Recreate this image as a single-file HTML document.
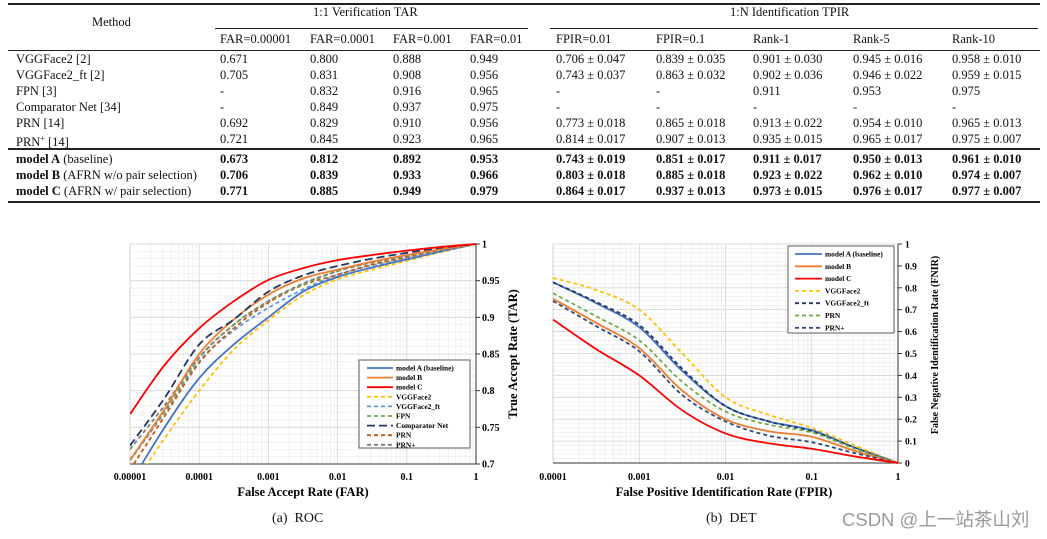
<!DOCTYPE html>
<html><head><meta charset="utf-8">
<style>
html,body{margin:0;padding:0;background:#fff;}
body{width:1047px;height:539px;position:relative;overflow:hidden;font-family:"Liberation Serif",serif;color:#111;}
.t{position:absolute;font-size:12.5px;white-space:nowrap;line-height:14px;}
.b{font-weight:bold;}
.rule{position:absolute;background:#222;}
svg text{font-family:"Liberation Serif",serif;}
</style></head>
<body>
<div>
<div class="rule" style="left:8px;top:3px;width:1032px;height:1.5px"></div>
<div class="rule" style="left:215px;top:28px;width:313px;height:1px"></div>
<div class="rule" style="left:550px;top:28px;width:488px;height:1px"></div>
<div class="rule" style="left:8px;top:50px;width:1032px;height:1px"></div>
<div class="rule" style="left:8px;top:148px;width:1032px;height:1.5px"></div>
<div class="rule" style="left:8px;top:201px;width:1032px;height:1.5px"></div>
<span class="t" style="left:92px;top:15px">Method</span>
<span class="t" style="left:313px;top:5px">1:1 Verification TAR</span>
<span class="t" style="left:730px;top:5px">1:N Identification TPIR</span>
</div>
<div id="tbl">
<div><span class="t" style="left:220px;top:32px">FAR=0.00001</span><span class="t" style="left:310px;top:32px">FAR=0.0001</span><span class="t" style="left:393px;top:32px">FAR=0.001</span><span class="t" style="left:470px;top:32px">FAR=0.01</span><span class="t" style="left:556px;top:32px">FPIR=0.01</span><span class="t" style="left:656px;top:32px">FPIR=0.1</span><span class="t" style="left:753px;top:32px">Rank-1</span><span class="t" style="left:853px;top:32px">Rank-5</span><span class="t" style="left:952px;top:32px">Rank-10</span></div>
<div><span class="t" style="left:16px;top:52px">VGGFace2 [2]</span><span class="t" style="left:220px;top:52px">0.671</span><span class="t" style="left:310px;top:52px">0.800</span><span class="t" style="left:393px;top:52px">0.888</span><span class="t" style="left:470px;top:52px">0.949</span><span class="t" style="left:556px;top:52px">0.706 ± 0.047</span><span class="t" style="left:656px;top:52px">0.839 ± 0.035</span><span class="t" style="left:753px;top:52px">0.901 ± 0.030</span><span class="t" style="left:853px;top:52px">0.945 ± 0.016</span><span class="t" style="left:952px;top:52px">0.958 ± 0.010</span></div>
<div><span class="t" style="left:16px;top:68px">VGGFace2_ft [2]</span><span class="t" style="left:220px;top:68px">0.705</span><span class="t" style="left:310px;top:68px">0.831</span><span class="t" style="left:393px;top:68px">0.908</span><span class="t" style="left:470px;top:68px">0.956</span><span class="t" style="left:556px;top:68px">0.743 ± 0.037</span><span class="t" style="left:656px;top:68px">0.863 ± 0.032</span><span class="t" style="left:753px;top:68px">0.902 ± 0.036</span><span class="t" style="left:853px;top:68px">0.946 ± 0.022</span><span class="t" style="left:952px;top:68px">0.959 ± 0.015</span></div>
<div><span class="t" style="left:16px;top:84px">FPN [3]</span><span class="t" style="left:220px;top:84px">-</span><span class="t" style="left:310px;top:84px">0.832</span><span class="t" style="left:393px;top:84px">0.916</span><span class="t" style="left:470px;top:84px">0.965</span><span class="t" style="left:556px;top:84px">-</span><span class="t" style="left:656px;top:84px">-</span><span class="t" style="left:753px;top:84px">0.911</span><span class="t" style="left:853px;top:84px">0.953</span><span class="t" style="left:952px;top:84px">0.975</span></div>
<div><span class="t" style="left:16px;top:100px">Comparator Net [34]</span><span class="t" style="left:220px;top:100px">-</span><span class="t" style="left:310px;top:100px">0.849</span><span class="t" style="left:393px;top:100px">0.937</span><span class="t" style="left:470px;top:100px">0.975</span><span class="t" style="left:556px;top:100px">-</span><span class="t" style="left:656px;top:100px">-</span><span class="t" style="left:753px;top:100px">-</span><span class="t" style="left:853px;top:100px">-</span><span class="t" style="left:952px;top:100px">-</span></div>
<div><span class="t" style="left:16px;top:116px">PRN [14]</span><span class="t" style="left:220px;top:116px">0.692</span><span class="t" style="left:310px;top:116px">0.829</span><span class="t" style="left:393px;top:116px">0.910</span><span class="t" style="left:470px;top:116px">0.956</span><span class="t" style="left:556px;top:116px">0.773 ± 0.018</span><span class="t" style="left:656px;top:116px">0.865 ± 0.018</span><span class="t" style="left:753px;top:116px">0.913 ± 0.022</span><span class="t" style="left:853px;top:116px">0.954 ± 0.010</span><span class="t" style="left:952px;top:116px">0.965 ± 0.013</span></div>
<div><span class="t" style="left:16px;top:132px">PRN<sup style="font-size:8px">+</sup> [14]</span><span class="t" style="left:220px;top:132px">0.721</span><span class="t" style="left:310px;top:132px">0.845</span><span class="t" style="left:393px;top:132px">0.923</span><span class="t" style="left:470px;top:132px">0.965</span><span class="t" style="left:556px;top:132px">0.814 ± 0.017</span><span class="t" style="left:656px;top:132px">0.907 ± 0.013</span><span class="t" style="left:753px;top:132px">0.935 ± 0.015</span><span class="t" style="left:853px;top:132px">0.965 ± 0.017</span><span class="t" style="left:952px;top:132px">0.975 ± 0.007</span></div>
<div><span class="t" style="left:16px;top:152px"><b>model A</b> (baseline)</span><span class="t b" style="left:220px;top:152px">0.673</span><span class="t b" style="left:310px;top:152px">0.812</span><span class="t b" style="left:393px;top:152px">0.892</span><span class="t b" style="left:470px;top:152px">0.953</span><span class="t b" style="left:556px;top:152px">0.743 ± 0.019</span><span class="t b" style="left:656px;top:152px">0.851 ± 0.017</span><span class="t b" style="left:753px;top:152px">0.911 ± 0.017</span><span class="t b" style="left:853px;top:152px">0.950 ± 0.013</span><span class="t b" style="left:952px;top:152px">0.961 ± 0.010</span></div>
<div><span class="t" style="left:16px;top:168px"><b>model B</b> (AFRN w/o pair selection)</span><span class="t b" style="left:220px;top:168px">0.706</span><span class="t b" style="left:310px;top:168px">0.839</span><span class="t b" style="left:393px;top:168px">0.933</span><span class="t b" style="left:470px;top:168px">0.966</span><span class="t b" style="left:556px;top:168px">0.803 ± 0.018</span><span class="t b" style="left:656px;top:168px">0.885 ± 0.018</span><span class="t b" style="left:753px;top:168px">0.923 ± 0.022</span><span class="t b" style="left:853px;top:168px">0.962 ± 0.010</span><span class="t b" style="left:952px;top:168px">0.974 ± 0.007</span></div>
<div><span class="t" style="left:16px;top:184px"><b>model C</b> (AFRN w/ pair selection)</span><span class="t b" style="left:220px;top:184px">0.771</span><span class="t b" style="left:310px;top:184px">0.885</span><span class="t b" style="left:393px;top:184px">0.949</span><span class="t b" style="left:470px;top:184px">0.979</span><span class="t b" style="left:556px;top:184px">0.864 ± 0.017</span><span class="t b" style="left:656px;top:184px">0.937 ± 0.013</span><span class="t b" style="left:753px;top:184px">0.973 ± 0.015</span><span class="t b" style="left:853px;top:184px">0.976 ± 0.017</span><span class="t b" style="left:952px;top:184px">0.977 ± 0.007</span></div>
</div>

<svg id="charts" width="1047" height="539" style="position:absolute;left:0;top:0" xmlns="http://www.w3.org/2000/svg"></svg>
<span class="t" style="left:272px;top:512px;font-size:14px">(a)&nbsp; ROC</span>
<span class="t" style="left:706px;top:512px;font-size:14px">(b)&nbsp; DET</span>
<span class="t" style="left:842px;top:510px;font-size:18.5px;line-height:20px;color:#9a9a9a;font-family:'Liberation Sans','Noto Sans CJK SC',sans-serif">CSDN @上一站茶山刘</span>

<script>
// ROC data (x = FAR at half decades from 1e-5 to 1)
const rocExp = [-5,-4.5,-4,-3.5,-3,-2.5,-2,-1.5,-1,-0.5,0];
const rocModelC = [0.768,0.835,0.885,0.922,0.951,0.967,0.978,0.985,0.991,0.996,1];
const rocComparator = [0.725,0.79,0.863,0.897,0.935,0.957,0.970,0.980,0.988,0.995,1];
const rocModelB = [0.705,0.775,0.85,0.897,0.931,0.953,0.965,0.976,0.985,0.993,1];
const rocFPN = [0.706,0.772,0.845,0.89,0.922,0.945,0.963,0.975,0.984,0.993,1];
const rocPRNplus = [0.72,0.78,0.845,0.89,0.922,0.946,0.963,0.975,0.984,0.993,1];
const rocPRN = [0.692,0.765,0.838,0.885,0.92,0.944,0.958,0.972,0.982,0.992,1];
const rocVGGft = [0.705,0.77,0.84,0.882,0.913,0.938,0.958,0.971,0.981,0.991,1];
const rocModelA = [0.673,0.75,0.817,0.863,0.90,0.935,0.955,0.968,0.979,0.99,1];
const rocVGG = [0.665,0.735,0.80,0.856,0.896,0.93,0.952,0.965,0.977,0.989,1];
const rocXTicks = ["0.00001","0.0001","0.001","0.01","0.1","1"];
const rocYTicks = ["0.7","0.75","0.8","0.85","0.9","0.95","1"];
// DET data (x = FPIR at half decades from 1e-4 to 1)
const detExp = [-4,-3.5,-3,-2.5,-2,-1.5,-1,-0.5,0];
const detVGG = [0.845,0.79,0.70,0.50,0.30,0.22,0.16,0.08,0];
const detModelA = [0.825,0.73,0.62,0.42,0.26,0.19,0.15,0.07,0];
const detVGGft = [0.825,0.735,0.63,0.43,0.26,0.19,0.145,0.07,0];
const detPRN = [0.775,0.67,0.56,0.37,0.235,0.175,0.14,0.065,0];
const detModelB = [0.75,0.64,0.525,0.33,0.2,0.145,0.12,0.055,0];
const detPRNplus = [0.74,0.625,0.51,0.31,0.19,0.125,0.095,0.045,0];
const detModelC = [0.655,0.52,0.40,0.24,0.135,0.09,0.065,0.03,0];
const detXTicks = ["0.0001","0.001","0.01","0.1","1"];
const detYTicks = ["0","0.1","0.2","0.3","0.4","0.5","0.6","0.7","0.8","0.9","1"];

const NS="http://www.w3.org/2000/svg";
const svg=document.getElementById('charts');
function mk(tag,attrs,parent){const e=document.createElementNS(NS,tag);for(const k in attrs)e.setAttribute(k,attrs[k]);(parent||svg).appendChild(e);return e;}
const R={x0:130,x1:476,y0:244,y1:464};
const D={x0:553,x1:898,y0:244,y1:463};
const xr=e=>R.x0+(e+5)/5*(R.x1-R.x0);
const yr=v=>R.y1-(v-0.7)/0.3*(R.y1-R.y0);
const xd=e=>D.x0+(e+4)/4*(D.x1-D.x0);
const yd=v=>D.y1-v*(D.y1-D.y0);

function pathFrom(pts){
  let d="M"+pts[0][0].toFixed(2)+","+pts[0][1].toFixed(2);
  for(let i=0;i<pts.length-1;i++){
    const p0=pts[Math.max(0,i-1)],p1=pts[i],p2=pts[i+1],p3=pts[Math.min(pts.length-1,i+2)];
    const c1=[p1[0]+(p2[0]-p0[0])/6,p1[1]+(p2[1]-p0[1])/6];
    const c2=[p2[0]-(p3[0]-p1[0])/6,p2[1]-(p3[1]-p1[1])/6];
    d+=" C"+c1[0].toFixed(2)+","+c1[1].toFixed(2)+" "+c2[0].toFixed(2)+","+c2[1].toFixed(2)+" "+p2[0].toFixed(2)+","+p2[1].toFixed(2);
  }
  return d;
}

function grid(P,xf,decStart,decs,yf,yMinor,yMajor,yLo,yHi){
  const g=mk('g',{});
  
  
  for(let k=0;k<decs;k++){for(let m=2;m<=9;m++){const x=xf(decStart+k+Math.log10(m));
    mk('line',{x1:x,x2:x,y1:P.y0,y2:P.y1,stroke:'#ececec','stroke-width':0.7},g);}}
  for(let v=yLo;v<=yHi+1e-9;v+=yMinor){const y=yf(v);mk('line',{x1:P.x0,x2:P.x1,y1:y,y2:y,stroke:'#ececec','stroke-width':0.7},g);}
  for(let v=yLo;v<=yHi+1e-9;v+=yMajor){const y=yf(v);mk('line',{x1:P.x0,x2:P.x1,y1:y,y2:y,stroke:'#d4d4d4','stroke-width':0.8},g);}
  for(let k=0;k<=decs;k++){const x=xf(decStart+k);mk('line',{x1:x,x2:x,y1:P.y0,y2:P.y1,stroke:'#d4d4d4','stroke-width':0.8},g);}
  mk('line',{x1:P.x0,x2:P.x0,y1:P.y0,y2:P.y1,stroke:'#d0d0d0','stroke-width':0.8},g);
  mk('line',{x1:P.x0,x2:P.x1,y1:P.y1,y2:P.y1,stroke:'#333','stroke-width':1},g);
  mk('line',{x1:P.x1,x2:P.x1,y1:P.y0,y2:P.y1,stroke:'#333','stroke-width':1},g);
}

// ---- ROC ----
grid(R,xr,-5,5,yr,0.01,0.05,0.7,1.0);
const clipR=mk('clipPath',{id:'clipR'});mk('rect',{x:R.x0,y:R.y0-2,width:R.x1-R.x0,height:R.y1-R.y0+2},clipR);
const rocSeries=[
 ['roc-vggface2',rocVGG,'#FFC000','4,3'],
 ['roc-model-a',rocModelA,'#4472C4',''],
 ['roc-vggface2-ft',rocVGGft,'#5B9BD5','4,3'],
 ['roc-prn',rocPRN,'#C55A11','4,3'],
 ['roc-fpn',rocFPN,'#70AD47','4,3'],
 ['roc-prn-plus',rocPRNplus,'#7F7F7F','4,3'],
 ['roc-model-b',rocModelB,'#ED7D31',''],
 ['roc-comparator-net',rocComparator,'#203864','8,4'],
 ['roc-model-c',rocModelC,'#FF0000','']
];
rocSeries.forEach(s=>{
  const p=mk('path',{d:pathFrom(rocExp.map((e,i)=>[xr(e),yr(s[1][i])])),fill:'none',stroke:s[2],'stroke-width':1.8,'stroke-dasharray':s[3],'clip-path':'url(#clipR)'});
  
  
});
rocXTicks.forEach((t,i)=>{const tx=mk('text',{x:xr(-5+i),y:480,'text-anchor':'middle','font-size':10,'font-weight':'bold'});tx.textContent=t;
  
  });
rocYTicks.forEach((t,i)=>{const tx=mk('text',{x:482,y:yr(0.7+i*0.05)+3.5,'font-size':10,'font-weight':'bold'});tx.textContent=t;
  
  
  mk('line',{x1:R.x1,x2:R.x1+4,y1:yr(0.7+i*0.05),y2:yr(0.7+i*0.05),stroke:'#333'});});
let tt=mk('text',{x:303,y:496,'text-anchor':'middle','font-size':12.5,'font-weight':'bold'});tt.textContent='False Accept Rate (FAR)';


tt=mk('text',{x:0,y:0,'text-anchor':'middle','font-size':12.5,'font-weight':'bold',transform:'translate(517,354) rotate(-90)'});tt.textContent='True Accept Rate (TAR)';


// ROC legend
const rocLeg=[['model A (baseline)','#4472C4',''],['model B','#ED7D31',''],['model C','#FF0000',''],['VGGFace2','#FFC000','4,3'],['VGGFace2_ft','#5B9BD5','4,3'],['FPN','#70AD47','4,3'],['Comparator Net','#203864','8,4'],['PRN','#C55A11','4,3'],['PRN+','#7F7F7F','4,3']];
const lg=mk('g',{});


mk('rect',{x:359,y:360,width:111,height:88,fill:'#fff',stroke:'#333','stroke-width':0.8},lg);
rocLeg.forEach((l,i)=>{const y=368+i*9.6;
  mk('line',{x1:367,x2:393,y1:y,y2:y,stroke:l[1],'stroke-width':1.8,'stroke-dasharray':l[2]},lg);
  const t=mk('text',{x:396,y:y+2.5,'font-size':7.4,'font-weight':'bold'},lg);t.textContent=l[0];
  
  });

// ---- DET ----
grid(D,xd,-4,4,yd,0.02,0.1,0,1.0);
const detSeries=[
 ['det-vggface2',detVGG,'#FFC000','4,3'],
 ['det-model-a',detModelA,'#4472C4',''],
 ['det-vggface2-ft',detVGGft,'#203864','4,3'],
 ['det-prn',detPRN,'#70AD47','4,3'],
 ['det-model-b',detModelB,'#ED7D31',''],
 ['det-prn-plus',detPRNplus,'#2F4A7A','4,3'],
 ['det-model-c',detModelC,'#FF0000','']
];
detSeries.forEach(s=>{
  const p=mk('path',{d:pathFrom(detExp.map((e,i)=>[xd(e),yd(s[1][i])])),fill:'none',stroke:s[2],'stroke-width':1.8,'stroke-dasharray':s[3]});
  
  
});
detXTicks.forEach((t,i)=>{const tx=mk('text',{x:xd(-4+i),y:480,'text-anchor':'middle','font-size':10,'font-weight':'bold'});tx.textContent=t;
  
  });
detYTicks.forEach((t,i)=>{const tx=mk('text',{x:905,y:yd(i*0.1)+3.5,'font-size':9.5,'font-weight':'bold'});tx.textContent=t;
  
  
  mk('line',{x1:D.x1,x2:D.x1+4,y1:yd(i*0.1),y2:yd(i*0.1),stroke:'#333'});});
tt=mk('text',{x:724,y:496,'text-anchor':'middle','font-size':12.5,'font-weight':'bold'});tt.textContent='False Positive Identification Rate (FPIR)';


tt=mk('text',{x:0,y:0,'text-anchor':'middle','font-size':10,'font-weight':'bold',transform:'translate(938,345) rotate(-90)'});tt.textContent='False Negative Identification Rate (FNIR)';


const detLeg=[['model A (baseline)','#4472C4',''],['model B','#ED7D31',''],['model C','#FF0000',''],['VGGFace2','#FFC000','4,3'],['VGGFace2_ft','#203864','4,3'],['PRN','#70AD47','4,3'],['PRN+','#2F4A7A','4,3']];
const dg=mk('g',{});


mk('rect',{x:788,y:246,width:106,height:87,fill:'#fff',stroke:'#333','stroke-width':0.8},dg);
detLeg.forEach((l,i)=>{const y=254+i*12.3;
  mk('line',{x1:795,x2:822,y1:y,y2:y,stroke:l[1],'stroke-width':1.8,'stroke-dasharray':l[2]},dg);
  const t=mk('text',{x:825,y:y+2.5,'font-size':7.4,'font-weight':'bold'},dg);t.textContent=l[0];
  
  });
</script>
</body></html>
